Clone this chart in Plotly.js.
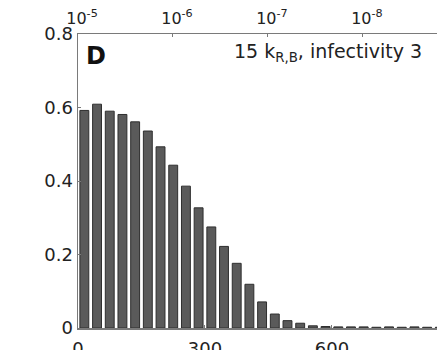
<!DOCTYPE html>
<html>
<head>
<meta charset="utf-8">
<script src="https://cdn.plot.ly/plotly-3.0.1.min.js"></script>
<style>
html, body { margin: 0; padding: 0; overflow: hidden; background: #fff; }
#chart { width: 450px; height: 350px; }
</style>
</head>
<body>
<div id="chart"></div>
<script>
// Bin centres (bottom axis units)
const binCenters = [15, 45, 75, 105, 135, 165, 195, 225, 255, 285,
                    315, 345, 375, 405, 435, 465, 495, 525, 555, 585,
                    615, 645, 675, 705, 735, 765, 795, 825, 855];
// Fraction values
const fractions = [0.592, 0.609, 0.590, 0.581, 0.561, 0.536, 0.493, 0.443, 0.386, 0.327,
                   0.275, 0.222, 0.176, 0.119, 0.071, 0.038, 0.020, 0.013, 0.006, 0.004,
                   0.003, 0.003, 0.003, 0.002, 0.003, 0.002, 0.003, 0.002, 0.002];
// Axis ticks
const bottomTickVals = [0, 300, 600];
const leftTickVals = [0, 0.2, 0.4, 0.6, 0.8];
const leftTickText = ['0', '0.2', '0.4', '0.6', '0.8'];
const topTickVals = [5, 6, 7, 8];
const topTickText = ['10<sup>-5</sup>', '10<sup>-6</sup>', '10<sup>-7</sup>', '10<sup>-8</sup>'];
const panelLabel = '<b>D</b>';
const panelTitle = '15 k<sub>R,B</sub>, infectivity 3';

const FONT = 'DejaVu Sans, Arial, sans-serif';
const AXC = '#7a7a7a';

const traces = [
  {
    type: 'bar',
    x: binCenters,
    y: fractions,
    width: 21,
    marker: { color: '#5a5a5a', line: { color: '#2e2e2e', width: 1 } },
    hoverinfo: 'skip',
    showlegend: false
  },
  {
    type: 'scatter',
    mode: 'markers',
    x: [5, 8.9],
    y: [null, null],
    xaxis: 'x2',
    marker: { opacity: 0 },
    hoverinfo: 'skip',
    showlegend: false
  }
];

const layout = {
  width: 450,
  height: 350,
  margin: { l: 78, r: 0, t: 34, b: 22, pad: 0 },
  paper_bgcolor: '#ffffff',
  plot_bgcolor: '#ffffff',
  font: { family: FONT, color: '#222', size: 18 },
  showlegend: false,
  bargap: 0,
  xaxis: {
    range: [0, 879],
    tickmode: 'array',
    tickvals: bottomTickVals,
    ticktext: bottomTickVals.map(String),
    ticks: 'inside', ticklen: 3, tickcolor: AXC,
    ticklabelstandoff: 4,
    showline: true, linecolor: AXC, linewidth: 1.5,
    showgrid: false, zeroline: false,
    tickfont: { family: FONT, size: 18, color: '#222' },
    fixedrange: true
  },
  xaxis2: {
    overlaying: 'x',
    side: 'top',
    anchor: 'y',
    range: [5, 8.917],
    tickmode: 'array',
    tickvals: topTickVals,
    ticktext: topTickText,
    ticks: 'inside', ticklen: 3, tickcolor: AXC,
    ticklabelshift: 4,
    ticklabelstandoff: 2,
    showline: true, linecolor: AXC, linewidth: 1.5,
    showgrid: false, zeroline: false,
    tickfont: { family: FONT, size: 16, color: '#222' },
    fixedrange: true
  },
  yaxis: {
    range: [0, 0.8],
    tickmode: 'array',
    tickvals: leftTickVals,
    ticktext: leftTickText,
    ticks: 'inside', ticklen: 3, tickcolor: AXC,
    showline: true, linecolor: AXC, linewidth: 1.5,
    showgrid: false, zeroline: false,
    tickfont: { family: FONT, size: 18, color: '#222' },
    fixedrange: true
  },
  annotations: [
    {
      text: panelLabel,
      xref: 'x', yref: 'y',
      x: 15, y: 0.74,
      xanchor: 'left', yanchor: 'middle',
      showarrow: false,
      font: { family: FONT, size: 24, color: '#111' }
    },
    {
      text: panelTitle,
      xref: 'x', yref: 'y',
      x: 364, y: 0.75,
      xanchor: 'left', yanchor: 'middle',
      showarrow: false,
      font: { family: FONT, size: 19, color: '#222' }
    }
  ]
};

Plotly.newPlot('chart', traces, layout, { displayModeBar: false, staticPlot: true });
</script>
</body>
</html>
